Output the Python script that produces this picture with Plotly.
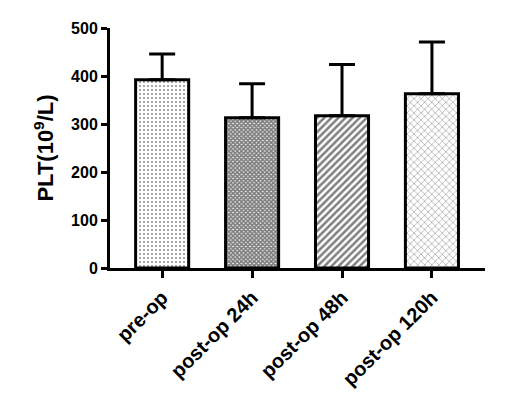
import plotly.graph_objects as go

categories = ["pre-op", "post-op 24h", "post-op 48h", "post-op 120h"]
means = [392, 313, 317, 363]
sds = [54, 71, 107, 108]
y_ticks = [0, 100, 200, 300, 400, 500]

patterns = [
    dict(shape=".", size=4, solidity=0.2, fgcolor="#111", bgcolor="white"),
    dict(shape="x", size=3, solidity=0.8, fgcolor="#000", bgcolor="white"),
    dict(shape="/", size=5, solidity=0.5, fgcolor="#000", bgcolor="white"),
    dict(shape="x", size=5, solidity=0.3, fgcolor="#666", bgcolor="white"),
]

FONT = "Liberation Sans, Arial, sans-serif"

fig = go.Figure()
for i, (c, m, s) in enumerate(zip(categories, means, sds)):
    fig.add_trace(go.Bar(
        x=[c], y=[m], width=0.59,
        marker=dict(color="white", line=dict(color="black", width=3), pattern=patterns[i]),
        error_y=dict(type="data", array=[s], arrayminus=[0], symmetric=False,
                     color="black", thickness=3, width=13),
        showlegend=False,
    ))

fig.update_layout(
    width=512, height=398,
    margin=dict(l=102, r=35, t=14, b=138),
    plot_bgcolor="white", paper_bgcolor="white",
    font=dict(family=FONT, color="black"),
)
fig.update_xaxes(
    range=[-0.58, 3.59], showline=True, linecolor="black", linewidth=3,
    ticks="outside", ticklen=7, tickwidth=3, tickcolor="black",
    tickangle=-45, tickfont=dict(size=20, family=FONT, weight="bold"),
    showgrid=False, zeroline=False,
)
fig.update_yaxes(
    range=[0, 500], tickvals=y_ticks, showline=True, linecolor="black", linewidth=3,
    ticks="outside", ticklen=6, tickwidth=3, tickcolor="black",
    tickfont=dict(size=16, family=FONT, weight="bold"),
    showgrid=False, zeroline=False,
    title=dict(text="PLT(10<sup>9</sup>/L)", font=dict(size=22, weight="bold"), standoff=12),
)

fig.write_html("out.html")
